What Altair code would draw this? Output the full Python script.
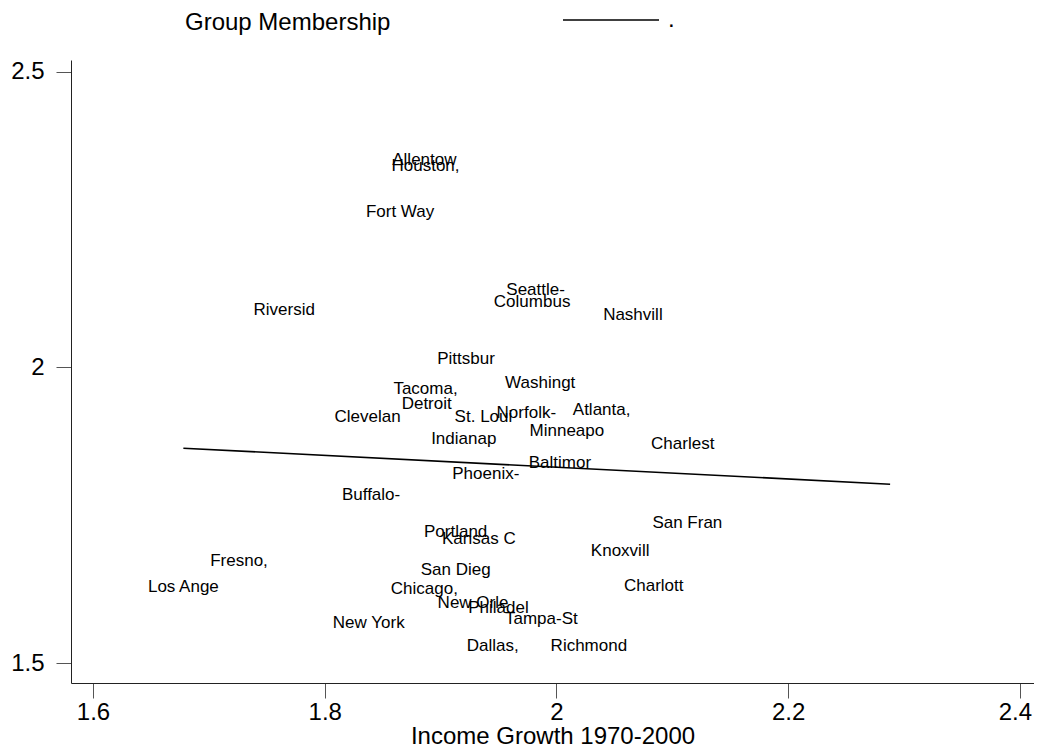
import altair as alt
import pandas as pd

# City labels (centred on their data positions)
cities = ["Allentow", "Houston,", "Fort Way", "Seattle-", "Columbus", "Riversid", "Nashvill",
          "Pittsbur", "Washingt", "Tacoma,", "Detroit", "Clevelan", "St. Loui", "Norfolk-",
          "Atlanta,", "Minneapo", "Indianap", "Charlest", "Baltimor", "Phoenix-", "Buffalo-",
          "San Fran", "Portland", "Kansas C", "Knoxvill", "Fresno,", "San Dieg", "Los Ange",
          "Chicago,", "Charlott", "New Orle", "Philadel", "Tampa-St", "New York", "Dallas,",
          "Richmond"]
income_growth = [1.886, 1.887, 1.865, 1.982, 1.979, 1.765, 2.066,
                 1.922, 1.986, 1.887, 1.888, 1.837, 1.937, 1.974,
                 2.039, 2.009, 1.920, 2.109, 2.003, 1.939, 1.840,
                 2.113, 1.913, 1.933, 2.055, 1.726, 1.913, 1.678,
                 1.886, 2.084, 1.928, 1.950, 1.987, 1.838, 1.945,
                 2.028]
membership = [2.351, 2.340, 2.263, 2.131, 2.110, 2.097, 2.088,
              2.014, 1.974, 1.963, 1.938, 1.916, 1.916, 1.923,
              1.928, 1.892, 1.879, 1.870, 1.838, 1.819, 1.784,
              1.736, 1.721, 1.709, 1.689, 1.672, 1.657, 1.628,
              1.626, 1.631, 1.601, 1.593, 1.574, 1.567, 1.528,
              1.528]

# Fitted line end points
fit_x = [1.678, 2.288]
fit_y = [1.8633, 1.8024]
fit_name = [".", "."]

x_ticks = [1.6, 1.8, 2.0, 2.2, 2.4]
y_ticks = [1.5, 2.0, 2.5]

FONT = "Liberation Sans"

pts = pd.DataFrame({"city": cities, "x": income_growth, "y": membership})
fit = pd.DataFrame({"x": fit_x, "y": fit_y, "series": fit_name})

xscale = alt.Scale(domain=[1.581, 2.4122], nice=False, zero=False)
yscale = alt.Scale(domain=[1.4662, 2.5198], nice=False, zero=False)

xaxis = alt.Axis(values=x_ticks, format="~g", title="Income Growth 1970-2000",
                 grid=False, tickSize=15, labelPadding=2, labelFontSize=24,
                 labelOffset=alt.ExprRef("datum.value > 2.35 ? -5 : 0"),
                 titleFontSize=24, titleFontWeight="normal", titlePadding=0,
                 labelFont=FONT, titleFont=FONT, domainColor="#222", tickColor="#555",
                 labelColor="black", titleColor="black")
yaxis = alt.Axis(values=y_ticks, format="~g", title=None, grid=False, tickSize=15,
                 labelPadding=12, labelFontSize=24, labelFont=FONT,
                 domainColor="#222", tickColor="#555", labelColor="black")

labels = alt.Chart(pts).mark_text(font=FONT, fontSize=17, color="black",
                                  align="center", baseline="middle").encode(
    x=alt.X("x:Q", scale=xscale, axis=xaxis),
    y=alt.Y("y:Q", scale=yscale, axis=yaxis),
    text="city:N",
)

line = alt.Chart(fit).mark_line(strokeWidth=1.6).encode(
    x=alt.X("x:Q", scale=xscale),
    y=alt.Y("y:Q", scale=yscale),
    color=alt.Color("series:N", scale=alt.Scale(range=["black"]),
                    legend=alt.Legend(
                        title="Group Membership", titleOrient="left", titlePadding=171,
                        titleLimit=1000,
                        titleFontSize=24, titleFont=FONT, titleFontWeight="normal",
                        titleColor="black", titleBaseline="line-top", titleLineHeight=42,
                        orient="none", legendX=114, legendY=-89,
                        symbolType="stroke", symbolSize=9216, symbolStrokeWidth=1.5,
                        labelFontSize=24, labelFont=FONT, labelColor="black",
                        labelOffset=8, padding=0)),
)

chart = alt.layer(line, labels).properties(
    width=963, height=623,
    background="white",
    autosize=alt.AutoSizeParams(type="none"),
    padding={"left": 63, "top": 52, "right": 0, "bottom": 61},
).configure_view(stroke=None, strokeWidth=0)

chart.save("out.html", embed_options={"renderer": "svg", "actions": False})
